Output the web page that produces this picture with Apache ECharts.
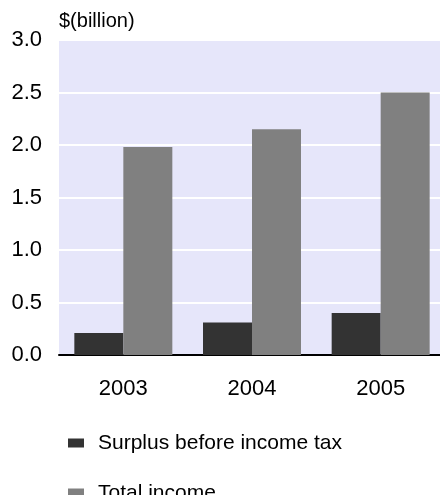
<!DOCTYPE html>
<html>
<head>
<meta charset="utf-8">
<script src="https://cdn.jsdelivr.net/npm/echarts@6/dist/echarts.min.js"></script>
<style>
html,body{margin:0;padding:0;background:#fff;overflow:hidden;width:440px;height:495px;}
#chart{width:446px;height:495px;}
</style>
</head>
<body>
<div id="chart"></div>
<script>
var categories = ['2003', '2004', '2005'];
var surplusBeforeTax = [0.21, 0.31, 0.40];
var totalIncome = [1.98, 2.15, 2.50];
var yTicks = { min: 0, max: 3, interval: 0.5 };
var unitLabel = '$(billion)';
var seriesNames = ['Surplus before income tax', 'Total income'];

var FONT = '"Liberation Sans", Arial, sans-serif';
function legendFor(name, top) {
  return {
    orient: 'vertical', left: 63, top: top,
    itemWidth: 16, itemHeight: 9, icon: 'rect',
    textStyle: { fontSize: 21, lineHeight: 22, color: '#000', fontFamily: FONT, padding: [0, 0, 0, 9] },
    data: [name]
  };
}
var chart = echarts.init(document.getElementById('chart'), null, { renderer: 'canvas' });
chart.setOption({
  animation: false,
  backgroundColor: '#ffffff',
  textStyle: { fontFamily: FONT },
  graphic: [{
    type: 'text', left: 59, top: 11,
    style: { text: unitLabel, fontSize: 20, fontFamily: FONT, fill: '#000' }
  }],
  grid: {
    left: 59, top: 40, right: 1, bottom: 140, outerBoundsMode: 'none',
    show: true, backgroundColor: '#e6e6fa', borderWidth: 0
  },
  legend: [legendFor(seriesNames[0], 427), legendFor(seriesNames[1], 477)],
  xAxis: {
    type: 'category', data: categories,
    axisLine: { show: true, lineStyle: { color: '#000', width: 2 } },
    axisTick: { show: false },
    axisLabel: { fontSize: 22, color: '#000', margin: 23, fontFamily: FONT },
    splitLine: { show: false }
  },
  yAxis: {
    type: 'value', min: yTicks.min, max: yTicks.max, interval: yTicks.interval,
    axisLine: { show: false }, axisTick: { show: false },
    axisLabel: { fontSize: 22, color: '#000', margin: 17, fontFamily: FONT,
      formatter: function (v) { return v.toFixed(1); } },
    splitLine: { show: true, lineStyle: { color: '#ffffff', width: 2 } }
  },
  series: [
    { name: seriesNames[0], type: 'bar', data: surplusBeforeTax, barWidth: 49, barGap: '0%',
      itemStyle: { color: '#333333' } },
    { name: seriesNames[1], type: 'bar', data: totalIncome, barWidth: 49, barGap: '0%',
      itemStyle: { color: '#808080' } }
  ]
});
</script>
</body>
</html>
